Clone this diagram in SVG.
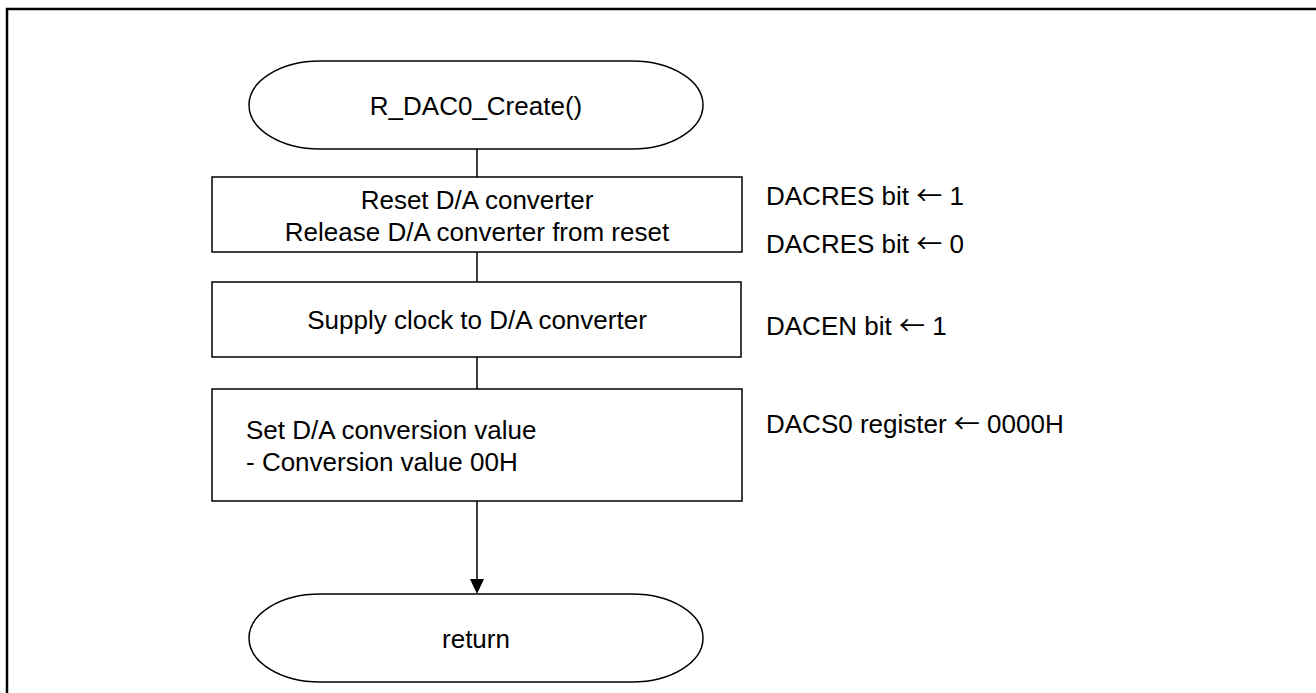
<svg xmlns="http://www.w3.org/2000/svg" width="1316" height="693" viewBox="0 0 1316 693">
<style>
.shape{fill:#fff;stroke:#000;stroke-width:1.5}
.t{font-family:"Liberation Sans",Arial,sans-serif;font-size:26px;fill:#000}
.c{text-anchor:middle}
.ar{font-family:"Noto Sans CJK JP","Liberation Sans",sans-serif}
.line{stroke:#000;stroke-width:1.5;fill:none}
</style>
<rect x="7" y="9" width="1330" height="710" fill="#fff" stroke="#000" stroke-width="2.5"/>
<g id="connectors">
<line class="line" x1="477" y1="149" x2="477" y2="177"/>
<line class="line" x1="477" y1="252" x2="477" y2="282"/>
<line class="line" x1="477" y1="357" x2="477" y2="389"/>
<path d="M477,501 V580" class="line"/>
<path d="M470,579 L484,579 L477,594 Z" fill="#000"/>
</g>
<g id="start">
<path class="shape" d="M320,61 H632 A71 44 0 0 1 632,149 H320 A71 44 0 0 1 320,61 Z"/>
<text class="t c" x="476" y="115">R_DAC0_Create()</text>
</g>
<g id="reset">
<rect class="shape" x="212" y="177" width="530" height="75"/>
<text class="t c" x="477" y="209">Reset D/A converter</text>
<text class="t c" x="477" y="241">Release D/A converter from reset</text>
</g>
<g id="clock">
<rect class="shape" x="212" y="282" width="529" height="75"/>
<text class="t c" x="477" y="329">Supply clock to D/A converter</text>
</g>
<g id="setval">
<rect class="shape" x="212" y="389" width="530" height="112"/>
<text class="t" x="246" y="439">Set D/A conversion value</text>
<text class="t" x="246" y="471">- Conversion value 00H</text>
</g>
<g id="return">
<path class="shape" d="M320,594 H632 A71 44 0 0 1 632,682 H320 A71 44 0 0 1 320,594 Z"/>
<text class="t c" x="476" y="648">return</text>
</g>
<g id="notes">
<text class="t" x="766" y="205">DACRES bit <tspan class="ar">←</tspan> 1</text>
<text class="t" x="766" y="253">DACRES bit <tspan class="ar">←</tspan> 0</text>
<text class="t" x="766" y="335">DACEN bit <tspan class="ar">←</tspan> 1</text>
<text class="t" x="766" y="433">DACS0 register <tspan class="ar">←</tspan> 0000H</text>
</g>
</svg>
